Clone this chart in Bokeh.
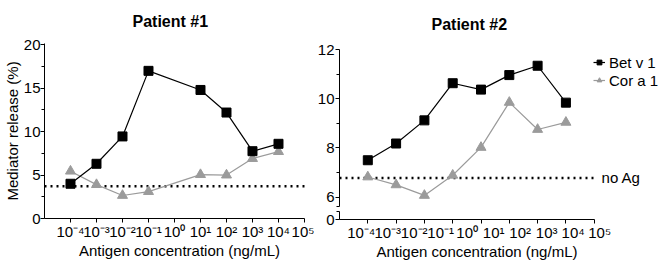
from bokeh.plotting import figure
from bokeh.models import Range1d, FixedTicker, LogAxis, LogScale, Legend, LegendItem, Label
from bokeh.layouts import row, column
from bokeh.embed import file_html
from bokeh.resources import INLINE

# ---------------- data ----------------
conc1 = [1e-4, 1e-3, 1e-2, 1e-1, 1e1, 1e2, 1e3, 1e4]
bet1 = [4.0, 6.3, 9.45, 17.0, 14.8, 12.2, 7.75, 8.6]
cor1 = [5.45, 3.9, 2.65, 3.1, 5.05, 5.0, 6.9, 7.7]
noag1 = 3.7

conc2 = [1e-4, 1e-3, 1e-2, 1e-1, 1e0, 1e1, 1e2, 1e3]
bet2 = [7.5, 8.18, 9.12, 10.63, 10.37, 10.96, 11.34, 9.84]
cor2 = [6.82, 6.5, 6.07, 6.89, 8.02, 9.85, 8.75, 9.04]
noag2 = 6.78

tick_vals = [1e-4, 1e-3, 1e-2, 1e-1, 1e0, 1e1, 1e2, 1e3, 1e4, 1e5]
tick_labels = ["10⁻⁴", "10⁻³", "10⁻²", "10⁻¹", "10⁰", "10¹", "10²", "10³", "10⁴", "10⁵"]
tick_vals2 = [1e-4, 1e-3, 1e-2, 1e-1, 1e0, 1e1, 1e2, 1e3, 1e4]
y1_ticks = [0, 5, 10, 15, 20]
y1_minor = [2.5, 7.5, 12.5, 17.5]
y2_ticks = [6, 8, 10, 12]
y2_minor = [7, 9, 11]

XMIN = 1e-5
XMAX1 = 1e5
XMAX2 = 1e4
Y2_LOW, Y2_HIGH = 5.62, 12.0
Y3_TOP = 0.325

FONT = "Liberation Sans"
GRAY = "#9b9b9b"
overrides = dict(zip(tick_vals, tick_labels))


def style_axis(ax):
    ax.axis_line_color = "black"
    ax.axis_line_width = 1
    ax.major_tick_line_color = "black"
    ax.major_tick_out = 4
    ax.major_tick_in = 0
    ax.minor_tick_line_color = "black"
    ax.minor_tick_out = 3
    ax.minor_tick_in = 0
    ax.major_label_text_font = FONT
    ax.major_label_text_font_size = "15px"
    ax.major_label_text_color = "black"
    ax.axis_label_text_font = FONT
    ax.axis_label_text_font_size = "15px"
    ax.axis_label_text_font_style = "normal"
    ax.axis_label_text_color = "black"
    ax.major_label_standoff = 1


def base(p):
    p.outline_line_color = None
    p.xgrid.visible = False
    p.ygrid.visible = False
    p.background_fill_color = "white"
    p.border_fill_color = "white"


def style_title(p, text, offset, standoff):
    p.title.text = text
    p.title.align = "left"
    p.title.vertical_align = "top"
    p.title.offset = offset
    p.title.standoff = standoff
    p.title.text_font = FONT
    p.title.text_font_size = "16px"
    p.title.text_font_style = "bold"
    p.title.text_color = "black"


# ---------------- panel 1 ----------------
p1 = figure(frame_width=270, frame_height=175, x_axis_type="log",
            x_range=Range1d(XMIN, 10 ** 5.385), y_range=Range1d(0, 20.15),
            output_backend="svg", toolbar_location=None, title="Patient #1",
            min_border_left=0, min_border_right=0, min_border_top=0, min_border_bottom=0)
base(p1)
style_title(p1, "Patient #1", 88, 24)
xa = p1.xaxis[0]
style_axis(xa)
xa.ticker = FixedTicker(ticks=tick_vals, minor_ticks=[])
xa.bounds = (XMIN, XMAX1)
xa.major_label_overrides = overrides
xa.major_label_standoff = 0
xa.axis_label = "Antigen concentration (ng/mL)"
xa.axis_label_standoff = -1
ya = p1.yaxis[0]
style_axis(ya)
ya.ticker = FixedTicker(ticks=y1_ticks, minor_ticks=y1_minor)
ya.major_label_standoff = 0
ya.axis_label = "Mediator release (%)"
ya.axis_label_standoff = 0

p1.line([XMIN, XMAX1], [noag1, noag1], line_color="black", line_width=2.5, line_dash="2 4")
p1.line(conc1, cor1, line_color=GRAY, line_width=1.2)
p1.scatter(conc1, cor1, marker="triangle", size=10, color=GRAY)
p1.line(conc1, bet1, line_color="black", line_width=1.2)
p1.scatter(conc1, bet1, marker="square", size=9, color="black")

# ---------------- panel 2 (top part, frame widened to hold legend / label) ----------------
p2 = figure(frame_width=323, frame_height=157, x_axis_type="log", x_axis_location=None,
            x_range=Range1d(XMIN, 10 ** 6.413), y_range=Range1d(Y2_LOW, Y2_HIGH),
            output_backend="svg", toolbar_location=None, title="Patient #2",
            min_border_left=24, min_border_right=0, min_border_top=0, min_border_bottom=5)
base(p2)
style_title(p2, "Patient #2", 92, 30)
ya2 = p2.yaxis[0]
style_axis(ya2)
ya2.ticker = FixedTicker(ticks=y2_ticks, minor_ticks=y2_minor + [Y2_LOW])

p2.line([XMIN, XMAX2], [noag2, noag2], line_color="black", line_width=2.5, line_dash="2 4")
lc = p2.line(conc2, cor2, line_color=GRAY, line_width=1.2)
sc = p2.scatter(conc2, cor2, marker="triangle", size=10, color=GRAY)
lb = p2.line(conc2, bet2, line_color="black", line_width=1.2)
sb = p2.scatter(conc2, bet2, marker="square", size=9, color="black")

legend = Legend(items=[LegendItem(label="Bet v 1", renderers=[lb, sb]),
                       LegendItem(label="Cor a 1", renderers=[lc, sc])],
                location=(254, 117), glyph_width=12, glyph_height=18, label_height=18,
                label_standoff=4, padding=0, margin=0, spacing=0,
                border_line_color=None, background_fill_alpha=0,
                label_text_font=FONT, label_text_font_size="15px", label_text_color="black")
p2.add_layout(legend)
p2.add_layout(Label(x=10 ** 4.26, y=noag2, text="no Ag", text_baseline="middle",
                    text_font=FONT, text_font_size="15px", text_color="black"))

# ---------------- panel 2 (bottom stub with x axis) ----------------
p3 = figure(frame_width=275, frame_height=8, x_axis_type="log",
            x_range=Range1d(XMIN, 10 ** 4.717), y_range=Range1d(0, Y3_TOP),
            output_backend="svg", toolbar_location=None, title=None,
            min_border_left=24, min_border_right=0, min_border_top=0, min_border_bottom=0)
base(p3)
p3.line([XMIN, XMAX2], [0, 0], line_alpha=0)
ya3 = p3.yaxis[0]
style_axis(ya3)
ya3.ticker = FixedTicker(ticks=[0], minor_ticks=[Y3_TOP])
xa3 = p3.xaxis[0]
style_axis(xa3)
xa3.ticker = FixedTicker(ticks=tick_vals2, minor_ticks=[])
xa3.bounds = (XMIN, XMAX2)
xa3.major_label_text_font_size = "1px"
xa3.major_label_text_alpha = 0
xa3.major_label_standoff = 0
p3.extra_x_ranges = {"lab": Range1d(10 ** -4.82, 10 ** 5.56)}
p3.extra_x_scales = {"lab": LogScale()}
lab = LogAxis(x_range_name="lab", ticker=FixedTicker(ticks=tick_vals, minor_ticks=[]))
style_axis(lab)
lab.axis_line_color = None
lab.major_tick_line_color = None
lab.major_tick_out = 0
lab.major_label_standoff = 0
lab.major_label_overrides = overrides
lab.axis_label = "Antigen concentration (ng/mL)"
lab.axis_label_standoff = -1
p3.add_layout(lab, "below")

layout = row(p1, column(p2, p3, spacing=0), spacing=0)
open("out.html", "w").write(file_html(layout, INLINE))
